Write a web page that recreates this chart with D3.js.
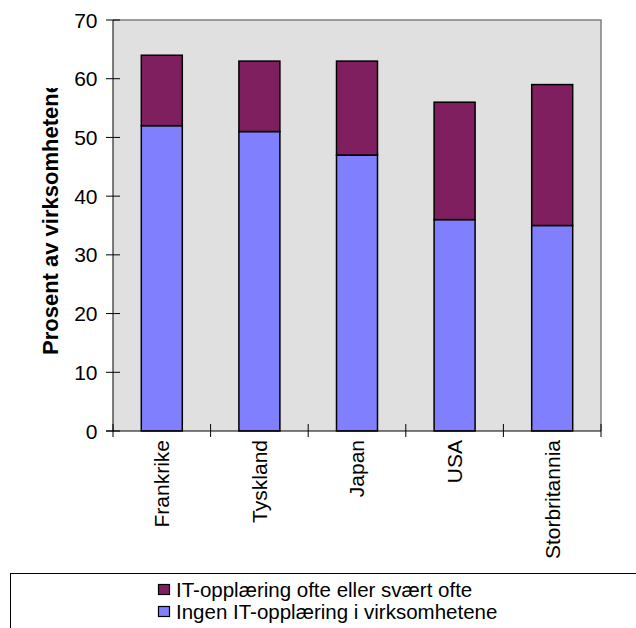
<!DOCTYPE html>
<html>
<head>
<meta charset="utf-8">
<script src="https://cdn.jsdelivr.net/npm/d3@7"></script>
<style>
  html, body { margin: 0; padding: 0; background: #ffffff; }
  svg { display: block; font-family: Arial, "Liberation Sans", sans-serif; }
</style>
</head>
<body>
<svg id="chart" width="636" height="628"></svg>
<script>
// Countries and the two stacked series (percent of firms)
const categories = ["Frankrike", "Tyskland", "Japan", "USA", "Storbritannia"];
const ingenOpplaering = [52, 51, 47, 36, 35];
const ofteOpplaering = [12, 12, 16, 20, 24];
const yTicks = [0, 10, 20, 30, 40, 50, 60, 70];
const seriesNames = ["Ingen IT-opplæring i virksomhetene", "IT-opplæring ofte eller svært ofte"];
const seriesColors = ["#8080ff", "#801f5f"];
const yTitle = "Prosent av virksomhetene";

const svg = d3.select("#chart");
const plot = { left: 113, right: 601, top: 20, bottom: 431 };

const rows = categories.map((c, i) => ({ cat: c, s0: ingenOpplaering[i], s1: ofteOpplaering[i] }));
const stacked = d3.stack().keys(["s0", "s1"])(rows);

const x = d3.scaleBand().domain(categories)
  .range([plot.left, plot.right]).paddingInner(0.58).paddingOuter(0.29);
const y = d3.scaleLinear().domain([0, 70]).range([plot.bottom, plot.top]);

// plot area
svg.append("rect")
  .attr("x", plot.left).attr("y", plot.top)
  .attr("width", plot.right - plot.left).attr("height", plot.bottom - plot.top)
  .attr("fill", "#e0e0e0");
svg.append("path")
  .attr("d", `M${plot.left},${plot.top}H${plot.right}V${plot.bottom}`)
  .attr("fill", "none").attr("stroke", "#808080").attr("stroke-width", 1.5);

// stacked bars
svg.append("g").selectAll("g").data(stacked).join("g")
  .attr("fill", (d, i) => seriesColors[i])
  .selectAll("rect").data(d => d).join("rect")
  .attr("x", d => x(d.data.cat))
  .attr("y", d => y(d[1]))
  .attr("width", x.bandwidth())
  .attr("height", d => y(d[0]) - y(d[1]))
  .attr("stroke", "#000").attr("stroke-width", 1.5);

// y axis with crossing tick marks
const yAxis = svg.append("g");
yAxis.append("line")
  .attr("x1", plot.left).attr("x2", plot.left)
  .attr("y1", plot.top).attr("y2", plot.bottom)
  .attr("stroke", "#000").attr("stroke-width", 1);
yAxis.selectAll("line.tick").data(yTicks).join("line")
  .attr("class", "tick")
  .attr("x1", plot.left - 7).attr("x2", plot.left + 7)
  .attr("y1", d => y(d)).attr("y2", d => y(d))
  .attr("stroke", "#000").attr("stroke-width", 1);
yAxis.selectAll("text").data(yTicks).join("text")
  .attr("x", plot.left - 15.5).attr("y", d => y(d))
  .attr("dy", "0.36em")
  .attr("text-anchor", "end")
  .attr("font-size", 21)
  .text(d => d);

// x axis with crossing tick marks at category boundaries
const xAxis = svg.append("g");
xAxis.append("line")
  .attr("x1", plot.left - 7).attr("x2", plot.right)
  .attr("y1", plot.bottom).attr("y2", plot.bottom)
  .attr("stroke", "#000").attr("stroke-width", 1);
const bounds = d3.range(categories.length + 1).map(i => x.range()[0] + i * x.step());
xAxis.selectAll("line.tick").data(bounds).join("line")
  .attr("class", "tick")
  .attr("x1", d => d).attr("x2", d => d)
  .attr("y1", plot.bottom - 7).attr("y2", plot.bottom + 6)
  .attr("stroke", "#000").attr("stroke-width", 1);
xAxis.selectAll("text").data(categories).join("text")
  .attr("transform", d => `translate(${x(d) + x.bandwidth() / 2},440) rotate(-90)`)
  .attr("dy", "0.35em")
  .attr("text-anchor", "end")
  .attr("font-size", 21)
  .text(d => d);

// y axis title, cut off at the top edge of its box
svg.append("clipPath").attr("id", "titleClip")
  .append("rect").attr("x", 0).attr("y", 88).attr("width", 110).attr("height", 400);
svg.append("g")
  .attr("clip-path", "url(#titleClip)")
  .append("text")
  .attr("transform", "translate(58,355) rotate(-90)")
  .attr("text-anchor", "start")
  .attr("font-size", 22)
  .attr("font-weight", "bold")
  .text(yTitle);

// legend
const legend = svg.append("g");
legend.append("rect")
  .attr("x", 10.5).attr("y", 573.5).attr("width", 700).attr("height", 100)
  .attr("fill", "#fff").attr("stroke", "#000").attr("stroke-width", 1);
const legendItems = [1, 0];
legend.selectAll("g").data(legendItems).join("g")
  .attr("transform", (d, i) => `translate(0,${i * 22})`)
  .each(function (d) {
    const g = d3.select(this);
    g.append("rect").attr("x", 158.5).attr("y", 584.5).attr("width", 11).attr("height", 10)
      .attr("fill", seriesColors[d]).attr("stroke", "#000").attr("stroke-width", 1.2);
    g.append("text").attr("x", 176).attr("y", 597)
      .attr("font-size", 20.5).text(seriesNames[d]);
  });
</script>
</body>
</html>
